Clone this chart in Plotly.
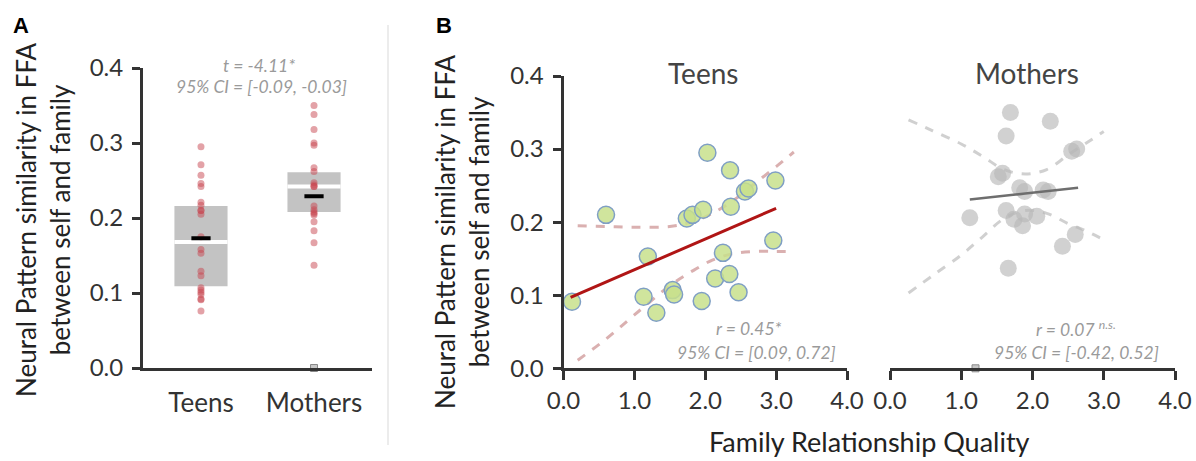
import plotly.graph_objects as go

W, H = 1196, 461

# ---------------- data ----------------
groups = ["Teens", "Mothers"]

teens_x = [0.12, 0.60, 1.19, 1.13, 1.31, 1.54, 1.56, 1.74, 1.82, 1.97, 2.03,
           1.95, 2.14, 2.25, 2.34, 2.36, 2.35, 2.47, 2.56, 2.61, 2.99, 2.96]
teens_y = [0.091, 0.210, 0.153, 0.098, 0.076, 0.107, 0.101, 0.205, 0.210, 0.217, 0.295,
           0.092, 0.123, 0.158, 0.129, 0.221, 0.271, 0.104, 0.242, 0.246, 0.257, 0.175]

mothers_x = [1.69, 2.25, 1.63, 2.55, 2.62, 1.52, 1.58, 1.82, 1.89, 2.15,
             2.22, 1.12, 1.63, 1.74, 1.86, 1.89, 2.06, 2.60, 2.42, 1.66]
mothers_y = [0.350, 0.338, 0.318, 0.297, 0.300, 0.262, 0.267, 0.247, 0.242, 0.244,
             0.242, 0.206, 0.216, 0.204, 0.195, 0.211, 0.208, 0.183, 0.167, 0.137]

# box summaries (q1, median, q3) and means
box_q1 = [0.109, 0.208]
box_median = [0.168, 0.242]
box_q3 = [0.216, 0.261]
box_mean = [0.173, 0.229]

# regression fits
teens_fit_x = [0.10, 3.00]
teens_fit_y = [0.097, 0.219]
mothers_fit_x = [1.12, 2.64]
mothers_fit_y = [0.231, 0.247]

# confidence bands
teens_ci_x = [0.2, 0.6, 1.0, 1.5, 1.8, 2.1, 2.4, 2.7, 3.0, 3.25]
teens_ci_upper = [0.195, 0.194, 0.193, 0.194, 0.200, 0.212, 0.230, 0.253, 0.276, 0.296]
teens_ci_lower = [0.011, 0.040, 0.073, 0.113, 0.132, 0.148, 0.157, 0.160, 0.160, 0.160]

mothers_ci_x = [0.26, 0.6, 1.0, 1.3, 1.6, 1.9, 2.2, 2.5, 2.75, 3.0]
mothers_ci_upper = [0.340, 0.325, 0.307, 0.290, 0.272, 0.266, 0.272, 0.292, 0.308, 0.324]
mothers_ci_lower = [0.103, 0.127, 0.155, 0.180, 0.205, 0.216, 0.212, 0.198, 0.188, 0.176]

# stray markers at zero
zero_mark_A_x = [1]
zero_mark_A_y = [0.0]
zero_mark_M_x = [1.2]
zero_mark_M_y = [0.0]

y_ticks = [0.0, 0.1, 0.2, 0.3, 0.4]
x_ticks = [0.0, 1.0, 2.0, 3.0, 4.0]

# ---------------- figure ----------------
FONT = "Lato"
AXC = "#333333"
fig = go.Figure()

BOX_HALF = 0.235
MEAN_HALF = 0.085

# Panel A: boxes
fig.add_trace(go.Bar(x=[0, 1], y=[q3 - q1 for q1, q3 in zip(box_q1, box_q3)], base=box_q1,
                     width=2 * BOX_HALF, marker=dict(color="#c3c3c3", line=dict(width=0)),
                     xaxis="x", yaxis="y", showlegend=False, hoverinfo="skip"))
for i, m in enumerate(box_median):
    fig.add_trace(go.Scatter(x=[i - BOX_HALF, i + BOX_HALF], y=[m, m], mode="lines",
                             line=dict(color="white", width=4), xaxis="x", yaxis="y",
                             showlegend=False, hoverinfo="skip"))
# dots
fig.add_trace(go.Scatter(x=[0] * len(teens_y), y=teens_y, mode="markers",
                         marker=dict(color="rgba(200,70,80,0.5)", size=7),
                         xaxis="x", yaxis="y", showlegend=False))
fig.add_trace(go.Scatter(x=[1] * len(mothers_y), y=mothers_y, mode="markers",
                         marker=dict(color="rgba(200,70,80,0.5)", size=7),
                         xaxis="x", yaxis="y", showlegend=False))
for i, m in enumerate(box_mean):
    fig.add_trace(go.Scatter(x=[i - MEAN_HALF, i + MEAN_HALF], y=[m, m], mode="lines",
                             line=dict(color="black", width=4), xaxis="x", yaxis="y",
                             showlegend=False, hoverinfo="skip"))
fig.add_trace(go.Scatter(x=zero_mark_A_x, y=zero_mark_A_y, mode="markers",
                         marker=dict(symbol="square", size=7, color="#c8c8c8",
                                     line=dict(color="#8a8a8a", width=1)),
                         xaxis="x", yaxis="y", showlegend=False, cliponaxis=False))

# Panel B Teens
fig.add_trace(go.Scatter(x=teens_ci_x, y=teens_ci_upper, mode="lines",
                         line=dict(color="rgba(205,150,150,0.75)", width=3, dash="dash", shape="spline"),
                         xaxis="x2", yaxis="y2", showlegend=False))
fig.add_trace(go.Scatter(x=teens_ci_x, y=teens_ci_lower, mode="lines",
                         line=dict(color="rgba(205,150,150,0.75)", width=3, dash="dash", shape="spline"),
                         xaxis="x2", yaxis="y2", showlegend=False))
fig.add_trace(go.Scatter(x=teens_x, y=teens_y, mode="markers",
                         marker=dict(color="rgba(200,225,140,0.85)", size=17,
                                     line=dict(color="#7f9fc4", width=1.5)),
                         xaxis="x2", yaxis="y2", showlegend=False, cliponaxis=False))
fig.add_trace(go.Scatter(x=teens_fit_x, y=teens_fit_y, mode="lines",
                         line=dict(color="#b01515", width=3),
                         xaxis="x2", yaxis="y2", showlegend=False))

# Panel B Mothers
fig.add_trace(go.Scatter(x=mothers_ci_x, y=mothers_ci_upper, mode="lines",
                         line=dict(color="rgba(200,200,200,0.85)", width=3, dash="dash", shape="spline"),
                         xaxis="x3", yaxis="y3", showlegend=False))
fig.add_trace(go.Scatter(x=mothers_ci_x, y=mothers_ci_lower, mode="lines",
                         line=dict(color="rgba(200,200,200,0.85)", width=3, dash="dash", shape="spline"),
                         xaxis="x3", yaxis="y3", showlegend=False))
fig.add_trace(go.Scatter(x=mothers_x, y=mothers_y, mode="markers",
                         marker=dict(color="rgba(185,185,185,0.65)", size=17, line=dict(width=0)),
                         xaxis="x3", yaxis="y3", showlegend=False))
fig.add_trace(go.Scatter(x=mothers_fit_x, y=mothers_fit_y, mode="lines",
                         line=dict(color="#6e6e6e", width=2.5),
                         xaxis="x3", yaxis="y3", showlegend=False))
fig.add_trace(go.Scatter(x=zero_mark_M_x, y=zero_mark_M_y, mode="markers",
                         marker=dict(symbol="square", size=7, color="#c8c8c8",
                                     line=dict(color="#8a8a8a", width=1)),
                         xaxis="x3", yaxis="y3", showlegend=False, cliponaxis=False))


def px_x(p):
    return p / W


def px_y(p):
    return (H - p) / H


numfont = dict(family=FONT, size=24, color=AXC)
catfont = dict(family=FONT, size=26, color=AXC)
ylab = [f"{v:.1f}" for v in y_ticks]
xlab = [f"{v:.1f}" for v in x_ticks]

common_axis = dict(showgrid=False, zeroline=False, showline=True, linecolor=AXC, linewidth=3,
                   fixedrange=True, automargin=False)

fig.update_layout(
    template="none",
    width=W, height=H,
    margin=dict(l=0, r=0, t=0, b=0, pad=0, autoexpand=False),
    paper_bgcolor="white", plot_bgcolor="white",
    font=dict(family=FONT, color=AXC),
    barmode="overlay",
    showlegend=False,
    xaxis=dict(domain=[px_x(143), px_x(372)], range=[-0.513, 1.513], anchor="y",
               tickvals=[0, 1], ticktext=groups, ticks="", ticklen=0, tickfont=catfont,
               ticklabelstandoff=10, **common_axis),
    yaxis=dict(domain=[px_y(368), px_y(68)], range=[0, 0.4], anchor="x",
               tickvals=y_ticks, ticktext=ylab, ticks="outside", ticklen=8, tickwidth=3,
               tickcolor=AXC, tickfont=numfont, ticklabelstandoff=4, **common_axis),
    xaxis2=dict(domain=[px_x(563.5), px_x(847)], range=[0, 4], anchor="y2",
                tickvals=x_ticks, ticktext=xlab, ticks="outside", ticklen=9, tickwidth=3,
                tickcolor=AXC, tickfont=numfont, **common_axis),
    yaxis2=dict(domain=[px_y(368.3), px_y(76)], range=[0, 0.4], anchor="x2",
                tickvals=y_ticks, ticktext=ylab, ticks="outside", ticklen=8, tickwidth=3,
                tickcolor=AXC, tickfont=numfont, ticklabelstandoff=4, **common_axis),
    xaxis3=dict(domain=[px_x(890), px_x(1175)], range=[0, 4], anchor="y3",
                tickvals=x_ticks, ticktext=xlab, ticks="outside", ticklen=9, tickwidth=3,
                tickcolor=AXC, tickfont=numfont, **common_axis),
    yaxis3=dict(domain=[px_y(368.3), px_y(76)], range=[0, 0.4], anchor="x3",
                visible=False, fixedrange=True, automargin=False),
)

ann_gray = "#9a9a9a"
ytitle = "Neural Pattern similarity in FFA<br>between self and family"
annotations = [
    dict(text="<b>A</b>", x=px_x(21), y=px_y(25), font=dict(family="Liberation Sans", size=22, color="black")),
    dict(text="<b>B</b>", x=px_x(444), y=px_y(25), font=dict(family="Liberation Sans", size=22, color="black")),
    dict(text="<i>t = -4.11*</i>", x=px_x(259), y=px_y(65), font=dict(size=17.5, color=ann_gray)),
    dict(text="<i>95% CI = [-0.09, -0.03]</i>", x=px_x(261), y=px_y(87), font=dict(size=17.5, color=ann_gray)),
    dict(text=ytitle, x=px_x(43), y=px_y(220), textangle=-90, font=dict(size=26, color="#222")),
    dict(text=ytitle, x=px_x(462), y=px_y(232), textangle=-90, font=dict(size=26, color="#222")),
    dict(text="Teens", x=px_x(703), y=px_y(73), font=dict(size=28, color="#444")),
    dict(text="Mothers", x=px_x(1027), y=px_y(73), font=dict(size=28, color="#444")),
    dict(text="<i>r = 0.45*</i>", x=px_x(749), y=px_y(328), font=dict(size=17.5, color=ann_gray)),
    dict(text="<i>95% CI = [0.09, 0.72]</i>", x=px_x(756), y=px_y(352), font=dict(size=17.5, color=ann_gray)),
    dict(text="<i>r = 0.07 <sup>n.s.</sup></i>", x=px_x(1076), y=px_y(328), font=dict(size=17.5, color=ann_gray)),
    dict(text="<i>95% CI = [-0.42, 0.52]</i>", x=px_x(1076), y=px_y(352), font=dict(size=17.5, color=ann_gray)),
    dict(text="Family Relationship Quality", x=px_x(869), y=px_y(441), font=dict(size=27, color="#222")),
]
for a in annotations:
    a.update(xref="paper", yref="paper", showarrow=False, xanchor="center", yanchor="middle")
    a["font"].setdefault("family", FONT)
fig.update_layout(annotations=annotations)

fig.add_shape(type="line", xref="paper", yref="paper", x0=px_x(388), x1=px_x(388),
              y0=px_y(25), y1=px_y(445), line=dict(color="#e6e6e6", width=1.5))

fig.write_html("out.html", config={"displayModeBar": False},
               post_script="document.body.style.margin='0px';document.body.style.overflow='hidden';")
